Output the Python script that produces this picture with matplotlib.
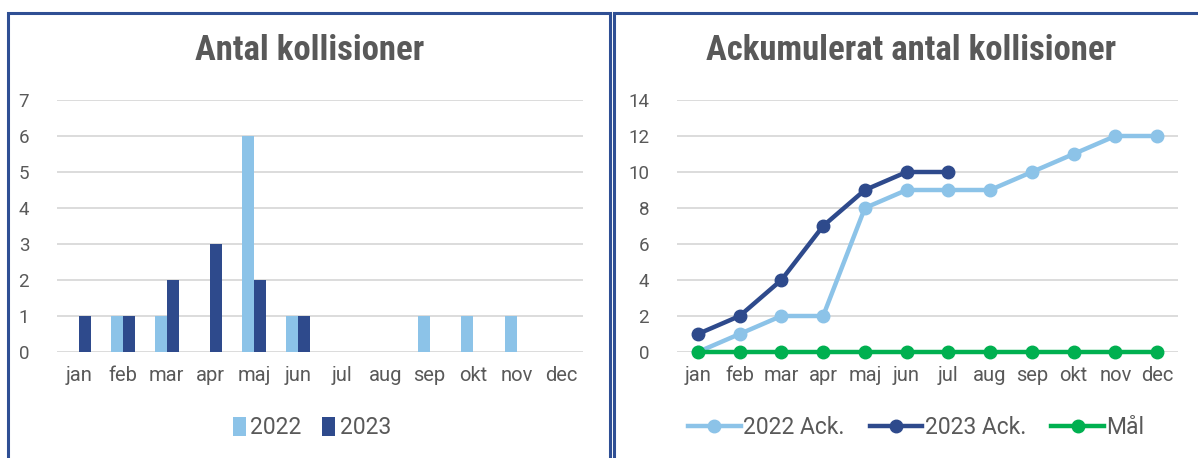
import numpy as np
import matplotlib
matplotlib.use('Agg')
import matplotlib.pyplot as plt
from matplotlib.patches import Rectangle

# data
months = ['jan', 'feb', 'mar', 'apr', 'maj', 'jun', 'jul', 'aug', 'sep', 'okt', 'nov', 'dec']
y2022 = [0, 1, 1, 0, 6, 1, 0, 0, 1, 1, 1, 0]
y2023 = [1, 1, 2, 3, 2, 1]
ack2022 = [0, 1, 2, 2, 8, 9, 9, 9, 10, 11, 12, 12]
ack2023 = [1, 2, 4, 7, 9, 10, 10]
mal = [0, 0, 0, 0, 0, 0, 0, 0, 0, 0, 0, 0]

light = '#8CC3E8'
dark = '#2E4A8C'
green = '#00B050'
txt = '#595959'
border = '#2F4F94'

plt.rcParams['font.family'] = ['Roboto', 'DejaVu Sans']
title_font = ['Roboto Condensed', 'Archivo Narrow', 'DejaVu Sans']

fig = plt.figure(figsize=(11.98, 4.58), dpi=100)
W, H = 1198, 458

# panel borders
fig.patches.append(Rectangle((8 / W, -0.1), 602 / W, 1.1 - 13 / H, transform=fig.transFigure,
                             fill=False, edgecolor=border, lw=2.2))
fig.patches.append(Rectangle((614 / W, -0.1), 600 / W, 1.1 - 13 / H, transform=fig.transFigure,
                             fill=False, edgecolor=border, lw=2.2))

x = np.arange(len(months))


def style(ax, ymax):
    ax.set_xlim(-0.5, 11.5)
    ax.set_ylim(0, ymax)
    for s in ax.spines.values():
        s.set_visible(False)
    ax.grid(axis='y', color='#D9D9D9', lw=1.3)
    ax.set_axisbelow(True)
    ax.tick_params(length=0, colors=txt)
    ax.tick_params(axis='y', pad=20, labelsize=13.5)
    ax.tick_params(axis='x', pad=10, labelsize=14.5)
    ax.set_xticks(x)
    ax.set_xticklabels(months)


# left: monthly bars
ax1 = fig.add_axes([57 / W, 106 / H, 526 / W, 252 / H])
bw = 0.275
ax1.bar(x - bw / 2, y2022, bw, color=light, label='2022')
ax1.bar(x[:len(y2023)] + bw / 2, y2023, bw, color=dark, label='2023')
style(ax1, 7)
ax1.set_yticks(range(0, 8))
ax1.text(310 / W, 1 - 51 / H, 'Antal kollisioner', transform=fig.transFigure, ha='center', va='center',
         fontsize=25, fontweight='bold', color=txt, family=title_font)
ax1.legend(loc='center', bbox_to_anchor=(312 / W, 1 - 428 / H), bbox_transform=fig.transFigure,
           ncol=2, frameon=False, fontsize=16.5, labelcolor=txt, handlelength=0.55, handleheight=0.85,
           handletextpad=0.2, columnspacing=0.9)

# right: cumulative lines
ax2 = fig.add_axes([677 / W, 106 / H, 501 / W, 252 / H])
ax2.plot(x, ack2022, color=light, lw=3.2, marker='o', ms=9, label='2022 Ack.')
ax2.plot(x[:len(ack2023)], ack2023, color=dark, lw=3.2, marker='o', ms=9, label='2023 Ack.')
ax2.plot(x, mal, color=green, lw=3.2, marker='o', ms=9, label='Mål', clip_on=False)
style(ax2, 14)
ax2.set_yticks(range(0, 15, 2))
ax2.text(911 / W, 1 - 51 / H, 'Ackumulerat antal kollisioner', transform=fig.transFigure, ha='center',
         va='center', fontsize=25, fontweight='bold', color=txt, family=title_font)
ax2.legend(loc='center', bbox_to_anchor=(916 / W, 1 - 428 / H), bbox_transform=fig.transFigure,
           ncol=3, frameon=False, fontsize=16.5, labelcolor=txt, handlelength=2.3,
           handletextpad=0.1, columnspacing=1.1)

fig.savefig('out.png', dpi=100)
